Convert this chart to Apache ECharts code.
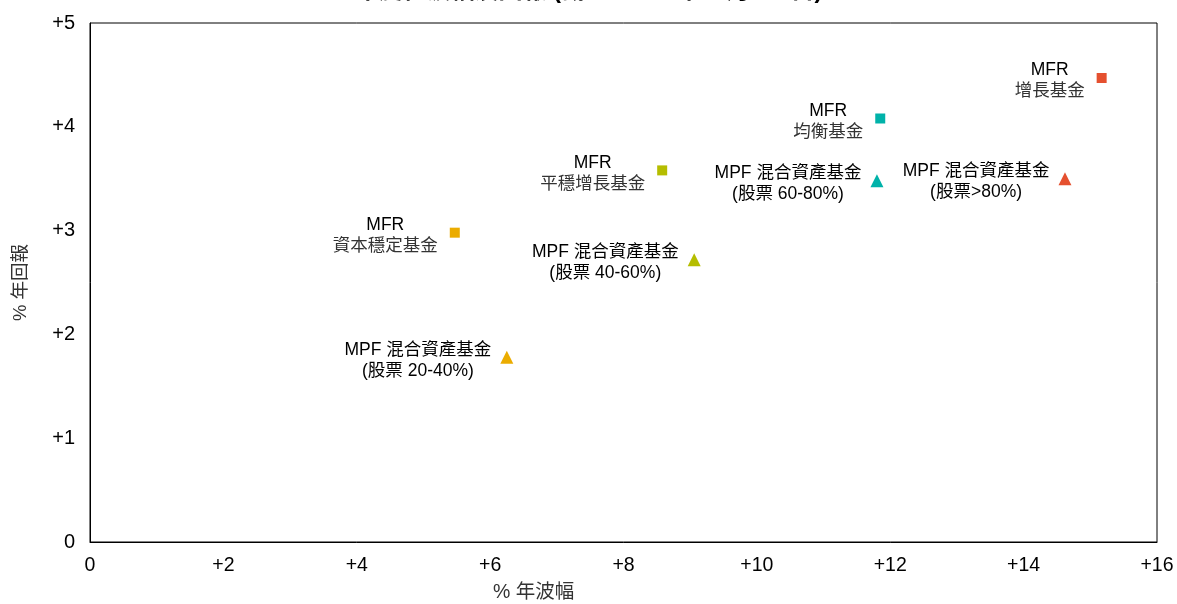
<!DOCTYPE html>
<html>
<head>
<meta charset="utf-8">
<script src="https://cdn.jsdelivr.net/npm/echarts@6/dist/echarts.min.js"></script>
<style>
  html, body { margin: 0; padding: 0; background: #fff; }
  #chart { width: 1177px; height: 604px; }
</style>
</head>
<body>
<div id="chart"></div>
<script>
// MFR funds (square markers)
const mfrNames = ['資本穩定基金', '平穩增長基金', '均衡基金', '增長基金'];
const mfrVolatility = [5.47, 8.58, 11.85, 15.17];
const mfrReturn = [2.98, 3.58, 4.08, 4.47];
const mfrColors = ['#EBAC00', '#B5BD00', '#00B2A9', '#E5502F'];

// MPF mixed asset funds (triangle markers)
const mpfNames = ['(股票 20-40%)', '(股票 40-60%)', '(股票 60-80%)', '(股票>80%)'];
const mpfVolatility = [6.25, 9.06, 11.80, 14.62];
const mpfReturn = [1.78, 2.72, 3.48, 3.50];
const mpfColors = ['#EBAC00', '#B5BD00', '#00B2A9', '#E5502F'];

const xTicks = [0, 2, 4, 6, 8, 10, 12, 14, 16];
const yTicks = [0, 1, 2, 3, 4, 5];

const FONT = '"Liberation Sans", Arial, "Noto Sans CJK TC", sans-serif';
const signed = v => (v > 0 ? '+' + v : String(v));

const richStyle = {
  t: { align: 'center', fontSize: 17.5, lineHeight: 21, color: '#000', fontFamily: FONT },
  c: { align: 'center', fontSize: 17.5, lineHeight: 21, color: '#333', fontFamily: FONT }
};

const mfrData = mfrNames.map((n, i) => ({
  value: [mfrVolatility[i], mfrReturn[i]],
  name: n,
  itemStyle: { color: mfrColors[i], opacity: 1 }
}));
const mpfData = mpfNames.map((n, i) => ({
  value: [mpfVolatility[i], mpfReturn[i]],
  name: n,
  itemStyle: { color: mpfColors[i], opacity: 1 }
}));

const chart = echarts.init(document.getElementById('chart'), null, { renderer: 'canvas' });
chart.setOption({
  animation: false,
  backgroundColor: '#fff',
  title: {
    text: '年度化波幅及回報 (截至 2024 年 6 月 30 日)',
    left: 'center',
    top: -26,
    textStyle: { fontSize: 24, fontWeight: 'bold', color: '#000', fontFamily: FONT }
  },
  grid: {
    left: 90, right: 20, top: 23, bottom: 62,
    show: true, borderColor: '#000', borderWidth: 1, backgroundColor: 'transparent'
  },
  xAxis: {
    type: 'value',
    min: xTicks[0], max: xTicks[xTicks.length - 1], interval: 2,
    axisLine: { show: true, lineStyle: { color: '#000', width: 1 } },
    axisTick: { show: false },
    splitLine: { show: false },
    axisLabel: { formatter: signed, fontSize: 19.5, color: '#000', margin: 14, fontFamily: FONT }
  },
  yAxis: {
    type: 'value',
    min: yTicks[0], max: yTicks[yTicks.length - 1], interval: 1,
    name: '% 年回報',
    nameLocation: 'middle',
    nameGap: 60,
    nameTextStyle: { fontSize: 18.5, color: '#333', fontFamily: FONT },
    axisLine: { show: true, lineStyle: { color: '#000', width: 1 } },
    axisTick: { show: false },
    splitLine: { show: false },
    axisLabel: { formatter: signed, fontSize: 20, color: '#000', margin: 15, fontFamily: FONT }
  },
  graphic: [{
    type: 'text',
    left: 493,
    top: 583,
    style: { text: '% 年波幅', fontSize: 19.5, fill: '#333', fontFamily: FONT }
  }],
  series: [
    {
      name: 'MFR',
      type: 'scatter',
      symbol: 'rect',
      symbolSize: 10,
      data: mfrData,
      label: {
        show: true,
        position: 'left',
        distance: 12,
        offset: [0, 3],
        formatter: p => '{t|MFR}\n{c|' + p.name + '}',
        rich: richStyle
      }
    },
    {
      name: 'MPF',
      type: 'scatter',
      symbol: 'triangle',
      symbolSize: 13,
      data: mpfData,
      label: {
        show: true,
        position: 'left',
        distance: 9,
        offset: [0, 3],
        formatter: p => '{t|MPF 混合資產基金}\n{t|' + p.name + '}',
        rich: richStyle
      }
    }
  ]
});
</script>
</body>
</html>
